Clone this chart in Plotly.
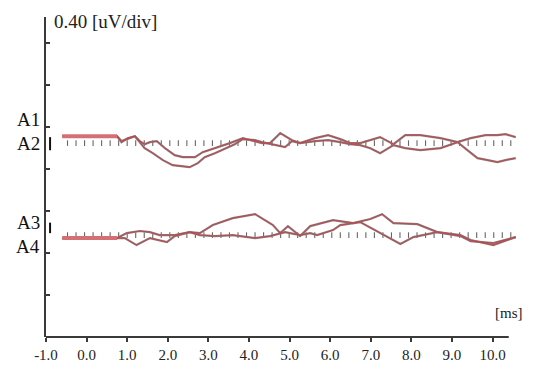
import plotly.graph_objects as go

# ---- data (time in ms, amplitude in uV) ----
A1_T = [-0.6, 0.75, 0.86, 1.01, 1.19, 1.31, 1.43, 1.56, 1.73, 1.93, 2.17, 2.37, 2.67, 2.86, 3.16, 3.53,
        3.85, 4.15, 4.32, 4.52, 4.77, 5.06, 5.26, 5.63, 5.95, 6.25, 6.49, 6.74, 6.99, 7.23, 7.56, 7.85,
        8.22, 8.72, 9.14, 9.46, 9.83, 10.12, 10.32, 10.57]
A1_Y = [1.914, 1.914, 1.867, 1.886, 1.914, 1.867, 1.838, 1.857, 1.867, 1.800, 1.733, 1.714, 1.714, 1.762,
        1.800, 1.848, 1.895, 1.867, 1.848, 1.848, 1.943, 1.876, 1.848, 1.895, 1.924, 1.886, 1.848, 1.848,
        1.876, 1.905, 1.838, 1.924, 1.924, 1.895, 1.857, 1.895, 1.924, 1.924, 1.933, 1.905]

A2_T = [-0.6, 0.75, 0.86, 1.01, 1.19, 1.43, 1.63, 1.88, 2.12, 2.35, 2.54, 2.74, 2.91, 3.16, 3.41, 3.65,
        3.85, 4.15, 4.32, 4.52, 4.89, 5.06, 5.26, 5.63, 5.95, 6.25, 6.49, 6.74, 6.99, 7.23, 7.56, 7.85,
        8.22, 8.72, 9.14, 9.38, 9.63, 9.88, 10.12, 10.32, 10.57]
A2_Y = [1.914, 1.914, 1.857, 1.895, 1.914, 1.800, 1.752, 1.686, 1.638, 1.629, 1.619, 1.657, 1.714, 1.752,
        1.800, 1.838, 1.886, 1.876, 1.857, 1.838, 1.810, 1.867, 1.848, 1.867, 1.876, 1.857, 1.838, 1.829,
        1.800, 1.752, 1.829, 1.800, 1.781, 1.800, 1.857, 1.781, 1.705, 1.686, 1.667, 1.686, 1.705]

A3_T = [-0.6, 0.75, 0.99, 1.31, 1.56, 1.80, 2.17, 2.54, 2.79, 3.11, 3.60, 4.15, 4.59, 4.77, 4.96, 5.26,
        5.51, 6.07, 6.57, 6.99, 7.28, 7.56, 8.15, 8.64, 9.21, 9.46, 10.02, 10.32, 10.57]
A3_Y = [0.943, 0.943, 0.990, 1.010, 1.000, 0.971, 0.971, 1.000, 0.990, 1.067, 1.133, 1.171, 1.067, 0.990,
        1.057, 0.962, 1.057, 1.114, 1.086, 1.124, 1.171, 1.086, 1.076, 1.000, 0.962, 0.914, 0.895, 0.924, 0.952]

A4_T = [-0.6, 0.75, 0.94, 1.23, 1.56, 1.98, 2.17, 2.54, 2.79, 3.16, 3.60, 4.15, 4.52, 4.89, 5.26, 5.51,
        5.68, 6.07, 6.25, 6.74, 7.23, 7.73, 8.05, 8.64, 9.21, 9.46, 10.02, 10.32, 10.57]
A4_Y = [0.943, 0.943, 0.943, 0.876, 0.943, 0.905, 0.962, 1.000, 0.971, 0.962, 0.971, 0.943, 0.962, 1.000,
        0.971, 0.990, 0.971, 1.019, 1.067, 1.095, 0.990, 0.886, 0.952, 1.000, 0.971, 0.924, 0.876, 0.914, 0.952]

BASELINE_A12 = 1.848
BASELINE_A34 = 0.971
BASELINE_START = -0.47
BASELINE_END = 10.5
BASELINE_STEP = 0.21

X_TICKS = [-1.0, 0.0, 1.0, 2.0, 3.0, 4.0, 5.0, 6.0, 7.0, 8.0, 9.0, 10.0]
X_TICK_LABELS = ["-1.0", "0.0", "1.0", "2.0", "3.0", "4.0", "5.0", "6.0", "7.0", "8.0", "9.0", "10.0"]
Y_TICKS = [0.4, 0.8, 1.2, 1.6, 2.0, 2.4, 2.8]

CHANNEL_LABELS = ["A1", "A2", "A3", "A4"]
CHANNEL_LABEL_Y = [2.07, 1.848, 1.095, 0.86]

SERIF = "Liberation Serif, Times New Roman, serif"
GRAY = "#8e7c7c"
RED = "#c0434a"

fig = go.Figure()

# dotted baselines
n = int(round((BASELINE_END - BASELINE_START) / BASELINE_STEP)) + 1
bx = [BASELINE_START + i * BASELINE_STEP for i in range(n)]
for base in (BASELINE_A12, BASELINE_A34):
    fig.add_trace(go.Scatter(x=bx, y=[base] * n, mode="markers",
                             marker=dict(symbol="line-ns", size=4,
                                         line=dict(width=1.1, color="#666666")),
                             hoverinfo="skip", showlegend=False))

# traces: gray casing + red core
for t, y in ((A1_T, A1_Y), (A2_T, A2_Y), (A3_T, A3_Y), (A4_T, A4_Y)):
    fig.add_trace(go.Scatter(x=t, y=y, mode="lines",
                             line=dict(color=GRAY, width=2.2),
                             hoverinfo="skip", showlegend=False))
for t, y in ((A1_T, A1_Y), (A2_T, A2_Y), (A3_T, A3_Y), (A4_T, A4_Y)):
    fig.add_trace(go.Scatter(x=t, y=y, mode="lines",
                             line=dict(color=RED, width=0.9),
                             hoverinfo="skip", showlegend=False))

# thick pre-stimulus segments
for t, y in ((A1_T, A1_Y), (A3_T, A3_Y)):
    fig.add_trace(go.Scatter(x=t[:2], y=y[:2], mode="lines",
                             line=dict(color="#d46f73", width=4),
                             hoverinfo="skip", showlegend=False))

# x axis line (stops short of the right edge)
fig.add_shape(type="line", xref="x", yref="paper", x0=-1.0, x1=10.4, y0=0, y1=0,
              line=dict(color="#3a3a3a", width=2))

# small calibration bars near the channel labels
fig.add_shape(type="line", xref="x", yref="y", x0=-0.9, x1=-0.9, y0=1.78, y1=1.905,
              line=dict(color="#111111", width=2))
fig.add_shape(type="line", xref="x", yref="y", x0=-0.9, x1=-0.9, y0=0.99, y1=1.09,
              line=dict(color="#111111", width=2))

for lab, ly in zip(CHANNEL_LABELS, CHANNEL_LABEL_Y):
    fig.add_annotation(x=-1.0, y=ly, xref="x", yref="y", text=lab, showarrow=False,
                       xanchor="right", yanchor="middle", xshift=-4,
                       font=dict(family=SERIF, size=19, color="#111111"))

fig.add_annotation(x=0, y=1, xref="paper", yref="paper", text="0.40 [uV/div]", showarrow=False,
                   xanchor="left", yanchor="middle", xshift=6, yshift=-4,
                   font=dict(family=SERIF, size=19, color="#222222"))
fig.add_annotation(x=10.4, y=0, xref="x", yref="paper", text="[ms]", showarrow=False,
                   xanchor="center", yanchor="bottom", yshift=14,
                   font=dict(family=SERIF, size=15, color="#222222"))

# page body adds an 8px margin; figure is sized so the plot lands where the reference has it
fig.update_layout(
    width=551, height=367,
    margin=dict(l=38, r=34, t=9, b=38),
    paper_bgcolor="white", plot_bgcolor="white",
    showlegend=False,
    xaxis=dict(range=[-1.0, 10.8], showline=False, showgrid=False, zeroline=False,
               tickvals=X_TICKS, ticktext=X_TICK_LABELS, ticks="outside", ticklen=4,
               tickwidth=2, tickcolor="#3a3a3a",
               tickfont=dict(family=SERIF, size=15, color="#222222")),
    yaxis=dict(range=[0, 3.05], showline=True, linecolor="#3a3a3a", linewidth=2,
               showgrid=False, zeroline=False, tickvals=Y_TICKS, showticklabels=False,
               ticks="inside", ticklen=4, tickwidth=2, tickcolor="#3a3a3a"),
)

fig.write_html("out.html")
